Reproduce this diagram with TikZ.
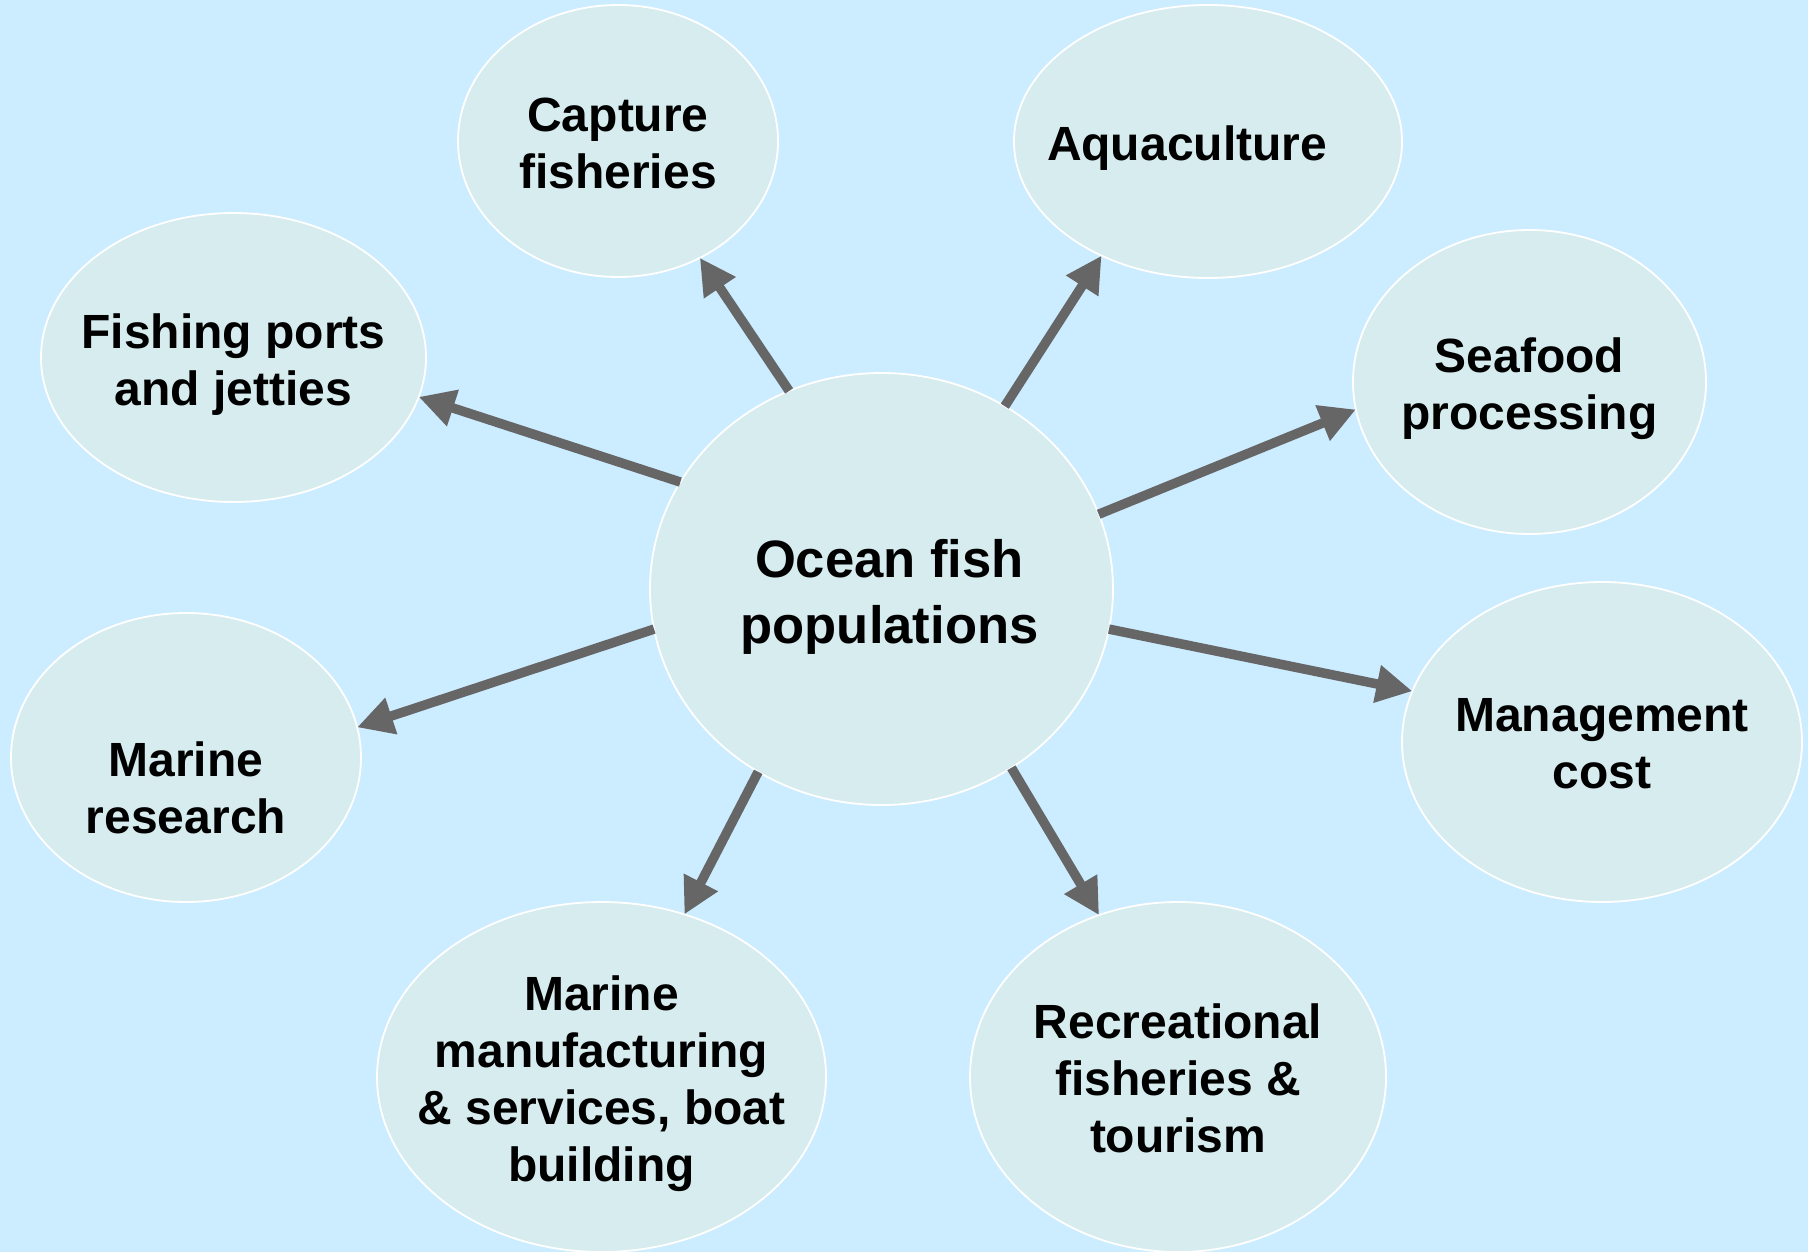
\documentclass[tikz,border=0pt]{standalone}
\usepackage{fontspec}
\setmainfont{Liberation Sans}
\usetikzlibrary{shapes.geometric,arrows.meta}
\definecolor{seaBack}{HTML}{CCECFF}
\definecolor{blobFill}{HTML}{D6ECEE}
\definecolor{flowGrey}{HTML}{666666}
\newcommand{\OceanHubFont}{\fontsize{26.3}{32.7}\selectfont\bfseries}
\newcommand{\OceanUseFont}{\fontsize{24}{28.5}\selectfont\bfseries}

\tikzset{
	blob/.style={ellipse, draw=white, line width=0.9pt, fill=blobFill, inner sep=0pt, outer sep=0pt},
	blobtext/.style={align=center, font=\OceanUseFont, text=black, inner sep=0pt},
	flow/.style={draw=flowGrey, line width=4.75pt, -{Triangle[length=18pt,width=18pt]}},
}

\begin{document}
\begin{tikzpicture}[x=0.5pt, y=-0.5pt]
		\fill[seaBack] (0,0) rectangle (1808,1252);
		\useasboundingbox (0,0) rectangle (1808,1252);
		% hub
		\node[blob, minimum width=231.5pt, minimum height=216pt,
			label={[blobtext, font=\OceanHubFont, xshift=4pt, yshift=-4pt]center:{Ocean fish\\populations}}] (ocean) at (881.5,589) {};
		% uses of the fish stock
		\node[blob, minimum width=160pt, minimum height=136pt,
			label={[blobtext, yshift=-1pt]center:{Capture\\fisheries}}] (capture) at (618,141) {};
		\node[blob, minimum width=194pt, minimum height=136.5pt,
			label={[blobtext, xshift=-10.5pt, yshift=-3.5pt]center:{Aquaculture}}] (aqua) at (1208,141.5) {};
		\node[blob, minimum width=192.5pt, minimum height=144.5pt,
			label={[blobtext, yshift=-3.5pt]center:{Fishing ports\\and jetties}}] (ports) at (233.5,357.5) {};
		\node[blob, minimum width=176.5pt, minimum height=152pt,
			label={[blobtext, yshift=-3.5pt]center:{Seafood\\processing}}] (seafood) at (1529.5,382) {};
		\node[blob, minimum width=175pt, minimum height=144.5pt,
			label={[blobtext, yshift=-15pt]center:{Marine\\research}}] (research) at (186,757.5) {};
		\node[blob, minimum width=200pt, minimum height=160pt,
			label={[blobtext, yshift=-1pt]center:{Management\\cost}}] (mgmt) at (1602,742) {};
		\node[blob, minimum width=224.5pt, minimum height=175pt,
			label={[blobtext, yshift=-3.5pt]center:{Marine\\manufacturing\\\& services, boat\\building}}] (manuf) at (601.5,1077) {};
		\node[blob, minimum width=208pt, minimum height=175pt,
			label={[blobtext, yshift=-0.5pt]center:{Recreational\\fisheries \&\\tourism}}] (recre) at (1178,1077) {};
		% arrows out of the hub
		\draw[flow] (ocean.115.5) -- (capture.305.4);
		\draw[flow] (ocean.56.6) -- (aqua.227.3);
		\draw[flow] (ocean.152.3) -- (ports.348.9);
		\draw[flow] (ocean.19.7) -- (seafood.189.8);
		\draw[flow] (ocean.190) -- (research.10.4);
		\draw[flow] (ocean.350) -- (mgmt.165.2);
		\draw[flow] (ocean.236.9) -- (manuf.63.3);
		\draw[flow] (ocean.306.6) -- (recre.116.8);
	\end{tikzpicture}
\end{document}
